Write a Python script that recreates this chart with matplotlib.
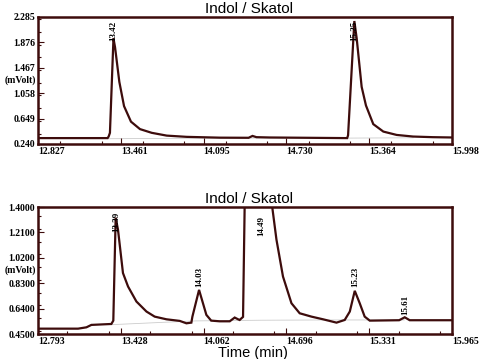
import numpy as np
import matplotlib.pyplot as plt
from matplotlib.ticker import MultipleLocator

# top chromatogram
t1 = [12.827, 13.36, 13.368, 13.378, 13.405, 13.417, 13.45, 13.486, 13.539, 13.608,
      13.698, 13.813, 13.966, 14.22, 14.44, 14.47, 14.5, 14.6, 15.18, 15.195, 15.202,
      15.25, 15.268, 15.306, 15.339, 15.395, 15.472, 15.574, 15.70, 15.85, 15.998]
v1 = [0.335, 0.335, 0.36, 0.42, 1.94, 1.80, 1.24, 0.85, 0.60, 0.48,
      0.42, 0.375, 0.355, 0.342, 0.34, 0.37, 0.35, 0.345, 0.335, 0.335, 0.38,
      2.22, 1.94, 1.16, 0.86, 0.56, 0.44, 0.386, 0.36, 0.35, 0.345]
base1_t = [13.36, 14.2, 15.2, 15.7]
base1_v = [0.325, 0.335, 0.335, 0.34]
peaks1 = [(13.405, 1.90, "13.42"), (15.25, 1.90, "15.25")]
xt1 = [12.827, 13.461, 14.095, 14.730, 15.364, 15.998]
yt1 = [0.240, 0.649, 1.058, 1.467, 1.876, 2.285]

# bottom chromatogram
t2 = [12.793, 13.10, 13.164, 13.202, 13.355, 13.37, 13.388, 13.406, 13.444, 13.483,
      13.547, 13.624, 13.687, 13.777, 13.879, 13.93, 13.968, 13.976, 14.027, 14.083,
      14.12, 14.185, 14.262, 14.30, 14.326, 14.338, 14.364, 14.377, 14.42, 14.49,
      14.581, 14.62, 14.67, 14.735, 14.798, 14.888, 14.977, 15.08, 15.143, 15.182,
      15.22, 15.258, 15.296, 15.335, 15.56, 15.603, 15.641, 15.965]
v2 = [0.49, 0.49, 0.50, 0.518, 0.525, 0.55, 1.32, 1.23, 0.906, 0.805,
      0.693, 0.618, 0.58, 0.56, 0.548, 0.53, 0.535, 0.58, 0.78, 0.593,
      0.55, 0.545, 0.545, 0.573, 0.56, 0.555, 0.578, 1.45, 2.2, 2.4,
      1.45, 1.156, 0.88, 0.68, 0.605, 0.58, 0.56, 0.535, 0.555, 0.618,
      0.773, 0.68, 0.58, 0.55, 0.553, 0.575, 0.553, 0.553]
base2_t = [13.36, 13.7, 14.0, 14.5, 15.0, 15.6]
base2_v = [0.52, 0.535, 0.548, 0.553, 0.555, 0.555]
peaks2 = [(13.39, 1.21, "13.39"), (14.03, 0.80, "14.03"), (14.50, 1.18, "14.49"),
          (15.225, 0.80, "15.23"), (15.605, 0.59, "15.61")]
xt2 = [12.793, 13.428, 14.062, 14.696, 15.331, 15.965]
yt2 = [0.4500, 0.6400, 0.8300, 1.0200, 1.2100, 1.4000]

dark = '#3d0c0c'
serif = 'Liberation Serif'

fig = plt.figure(figsize=(4.81, 3.59), dpi=100)
ax1 = fig.add_axes([38 / 481, 1 - 144 / 359, 414 / 481, 127 / 359])
ax2 = fig.add_axes([38 / 481, 1 - 334 / 359, 414 / 481, 127 / 359])


def setup(ax, t, v, bt, bv, peaks, xt, yt, fmt, ylab_v):
    ax.plot(bt, bv, color='#cccccc', lw=0.6, zorder=1)
    ax.plot(t, v, color=dark, lw=1.6, zorder=2, solid_joinstyle='miter')
    ax.set_xlim(xt[0], xt[-1])
    ax.set_ylim(yt[0], yt[-1])
    for s in ax.spines.values():
        s.set_color(dark)
        s.set_linewidth(1.8)
    ax.set_xticks(xt)
    ax.set_xticklabels([f"{x:.3f}" for x in xt], ha='left')
    ax.set_yticks(yt)
    ax.set_yticklabels([fmt.format(y) for y in yt])
    ax.xaxis.set_minor_locator(MultipleLocator((xt[1] - xt[0]) / 2))
    ax.yaxis.set_minor_locator(MultipleLocator((yt[1] - yt[0]) / 2))
    ax.tick_params(which='both', direction='in', color=dark, width=0.8,
                   labelsize=7, pad=2, top=False, right=False)
    ax.tick_params(which='major', length=4)
    ax.tick_params(which='minor', length=2.5)
    for lab in ax.get_xticklabels() + ax.get_yticklabels():
        lab.set_fontfamily(serif)
        lab.set_fontweight('bold')
    ax.text(-0.005, (ylab_v - yt[0]) / (yt[-1] - yt[0]), "(mVolt)",
            transform=ax.transAxes, ha='right', va='center', fontsize=7,
            family=serif, fontweight='bold')
    for px, py, lab in peaks:
        ax.text(px, py, lab, rotation=90, ha='center', va='bottom',
                fontsize=6.5, family=serif, fontweight='bold', clip_on=False)
    ax.set_title("Indol / Skatol", fontsize=11, family='Liberation Sans',
                 pad=3, x=0.51)


setup(ax1, t1, v1, base1_t, base1_v, peaks1, xt1, yt1, "{:.3f}", 1.262)
setup(ax2, t2, v2, base2_t, base2_v, peaks2, xt2, yt2, "{:.4f}", 0.925)
ax2.set_xlabel("Time (min)", fontsize=10.5, family='Liberation Sans', labelpad=0, x=0.52)

fig.savefig("out.png", dpi=100)
